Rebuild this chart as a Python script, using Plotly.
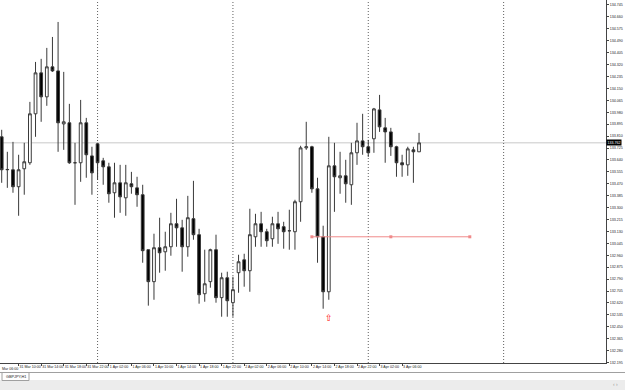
import plotly.graph_objects as go

# ---------------- data (GBPJPY, H1) ----------------
bar_index = list(range(75))
opens = [133.805, 133.570, 133.570, 133.449, 133.577, 133.620, 133.969, 134.261, 134.090, 134.304,
         134.275, 133.897, 133.905, 133.620, 133.620, 133.905, 133.669, 133.755, 133.634, 133.591,
         133.406, 133.477, 133.370, 133.470, 133.441, 133.392, 133.000, 132.772, 133.014, 132.985,
         133.021, 133.185, 133.156, 133.021, 133.221, 133.107, 132.686, 132.772, 133.000, 132.658,
         132.800, 132.622, 132.836, 132.928, 132.850, 133.092, 133.185, 133.128, 133.078, 133.185,
         133.164, 133.135, 133.128, 133.342, 133.726, 133.734, 133.434, 133.092, 132.700, 133.598,
         133.513, 133.527, 133.463, 133.691, 133.776, 133.734, 133.791, 133.997, 133.869, 133.840,
         133.734, 133.620, 133.605, 133.712, 133.698]
highs = [133.855, 133.698, 133.769, 133.677, 133.762, 134.054, 134.339, 134.361, 134.439, 134.517,
         134.624, 134.268, 134.040, 133.762, 134.068, 133.940, 133.734, 133.762, 133.655, 133.620,
         133.620, 133.605, 133.605, 133.555, 133.520, 133.463, 133.000, 133.114, 133.228, 133.128,
         133.263, 133.363, 133.213, 133.384, 133.491, 133.149, 133.000, 133.007, 133.107, 132.836,
         132.843, 132.807, 132.964, 132.971, 133.292, 133.256, 133.270, 133.149, 133.235, 133.270,
         133.199, 133.285, 133.356, 133.741, 133.912, 133.741, 133.513, 133.171, 133.805, 133.762,
         133.698, 133.641, 133.762, 133.905, 133.969, 133.783, 134.011, 134.104, 133.940, 133.869,
         133.741, 133.677, 133.734, 133.734, 133.833]
lows = [133.477, 133.441, 133.406, 133.242, 133.392, 133.605, 133.805, 133.912, 134.026, 134.268,
        133.698, 133.712, 133.612, 133.320, 133.484, 133.513, 133.392, 133.498, 133.463, 133.335,
        133.228, 133.263, 133.242, 133.399, 133.306, 132.907, 132.601, 132.643, 132.836, 132.850,
        132.957, 133.021, 132.843, 132.950, 133.071, 132.615, 132.629, 132.729, 132.622, 132.522,
        132.522, 132.522, 132.693, 132.736, 132.700, 133.021, 133.021, 133.021, 133.021, 133.042,
        133.007, 133.000, 133.000, 133.199, 133.712, 133.406, 132.907, 132.579, 132.643, 133.270,
        133.399, 133.335, 133.320, 133.605, 133.677, 133.662, 133.691, 133.840, 133.620, 133.669,
        133.520, 133.520, 133.527, 133.477, 133.698]
closes = [133.570, 133.572, 133.449, 133.570, 133.627, 133.969, 134.261, 134.090, 134.304, 134.275,
          133.905, 133.912, 133.620, 133.620, 133.905, 133.677, 133.548, 133.620, 133.591, 133.399,
          133.477, 133.377, 133.477, 133.449, 133.392, 132.993, 132.772, 133.014, 132.978, 133.021,
          133.185, 133.156, 133.021, 133.228, 133.107, 132.679, 132.757, 133.000, 132.658, 132.800,
          132.636, 132.715, 132.914, 132.850, 133.107, 133.185, 133.128, 133.064, 133.185, 133.149,
          133.128, 133.135, 133.342, 133.726, 133.734, 133.434, 133.092, 132.700, 133.598, 133.520,
          133.527, 133.470, 133.691, 133.776, 133.734, 133.691, 134.004, 133.876, 133.840, 133.734,
          133.620, 133.605, 133.719, 133.698, 133.762]

x_tick_index = [3, 7, 11, 15, 19, 23, 27, 31, 35, 39, 43, 47, 51, 55, 59, 63, 67, 71]
x_tick_text = ["31 Mar 10:00", "31 Mar 14:00", "31 Mar 18:00", "31 Mar 22:00",
               "1 Apr 02:00", "1 Apr 06:00", "1 Apr 10:00", "1 Apr 14:00", "1 Apr 18:00", "1 Apr 22:00",
               "2 Apr 02:00", "2 Apr 06:00", "2 Apr 10:00", "2 Apr 14:00", "2 Apr 18:00", "2 Apr 22:00",
               "3 Apr 02:00", "3 Apr 06:00"]
first_label_text = "Mar 06:00"   # visible part of the label cut at the left edge

y_tick_text = ["134.745", "134.660", "134.575", "134.490", "134.405", "134.320", "134.235", "134.150",
               "134.065", "133.980", "133.895", "133.810", "133.725", "133.640", "133.555", "133.470",
               "133.385", "133.300", "133.215", "133.130", "133.045", "132.960", "132.875", "132.790",
               "132.705", "132.620", "132.535", "132.450", "132.365", "132.280", "132.195"]

day_separators = [17, 41, 65, 89]
level_price = 133.092
level_points = [55, 69, 83]
arrow_index = 58
arrow_price = 132.508
symbol_label = "GBPJPY,H1"

# ---------------- layout constants ----------------
W, H = 625, 390
ML, MR, MT, MB = 0, 19, 0, 27
X_RANGE = [-0.30, 107.15]
Y_RANGE = [132.192, 134.7806]
FONT = "Liberation Sans"
PH = H - MT - MB


def py(p):
    return (H - MB - p) / PH


def pxx(p):
    return p / (W - ML - MR)


fig = go.Figure()

fig.add_trace(go.Candlestick(
    x=bar_index, open=opens, high=highs, low=lows, close=closes,
    increasing=dict(fillcolor="#ffffff", line=dict(color="#3a3a3a", width=1)),
    decreasing=dict(fillcolor="#000000", line=dict(color="#3a3a3a", width=1)),
    whiskerwidth=0, hoverinfo="skip", showlegend=False,
))

# horizontal level (red) with anchor points
fig.add_trace(go.Scatter(
    x=[level_points[0], level_points[-1]], y=[level_price, level_price], mode="lines",
    line=dict(color="#f08a8a", width=1), hoverinfo="skip", showlegend=False))
fig.add_trace(go.Scatter(
    x=level_points, y=[level_price] * len(level_points), mode="markers",
    marker=dict(symbol="square", size=3, color="#f08a8a"), hoverinfo="skip", showlegend=False))

# red up arrow
fig.add_trace(go.Scatter(
    x=[arrow_index], y=[arrow_price], mode="text", text=["⇧"],
    textfont=dict(family="DejaVu Sans", size=9, color="#ff0000"),
    textposition="middle center", hoverinfo="skip", showlegend=False))

shapes = []
# bid line
shapes.append(dict(type="line", xref="paper", yref="y", x0=0, x1=1, y0=closes[-1], y1=closes[-1],
                   line=dict(color="#c8c8c8", width=1), layer="below"))
# period separators
for d in day_separators:
    shapes.append(dict(type="line", xref="x", yref="paper", x0=d, x1=d, y0=0, y1=1,
                       line=dict(color="#606060", width=1, dash="1px,2px"), layer="below"))
# bottom status area
shapes.append(dict(type="rect", xref="paper", yref="paper", x0=-0.01, x1=pxx(W) + 0.01,
                   y0=py(380), y1=py(H + 2), fillcolor="#ececec", line=dict(width=0)))
shapes.append(dict(type="line", xref="paper", yref="paper", x0=0, x1=pxx(W),
                   y0=py(372.5), y1=py(372.5), line=dict(color="#a0a0a0", width=1)))
shapes.append(dict(type="rect", xref="paper", yref="paper", x0=pxx(2), x1=pxx(29),
                   y0=py(372.5), y1=py(380.5), fillcolor="#ffffff", line=dict(color="#a0a0a0", width=1)))

annotations = []
annotations.append(dict(xref="paper", yref="paper", x=pxx(15.5), y=py(376.5), text=symbol_label,
                        showarrow=False, font=dict(family=FONT, size=3.8, color="#222222"),
                        xanchor="center", yanchor="middle"))
annotations.append(dict(xref="paper", yref="paper", x=pxx(615), y=py(384), text="‹ ›",
                        showarrow=False, font=dict(family=FONT, size=5, color="#9a9a9a"),
                        xanchor="center", yanchor="middle"))
# current price tag
annotations.append(dict(xref="paper", yref="y", x=1.0, y=closes[-1], text=f"{closes[-1]:.3f}",
                        showarrow=False, xanchor="left", yanchor="middle", xshift=0,
                        bgcolor="#000000", borderpad=0.5,
                        font=dict(family=FONT, size=3.6, color="#ffffff")))
# partially visible first time label at the left edge
annotations.append(dict(xref="paper", yref="paper", x=0.0, y=py(364.5), text=first_label_text,
                        showarrow=False, xanchor="left", yanchor="top",
                        font=dict(family=FONT, size=3.6, color="#222222")))

fig.update_layout(
    width=W, height=H,
    margin=dict(l=ML, r=MR, t=MT, b=MB, pad=0),
    paper_bgcolor="#ffffff", plot_bgcolor="#ffffff",
    showlegend=False, shapes=shapes, annotations=annotations,
    font=dict(family=FONT, size=3.6, color="#222222"),
    xaxis=dict(range=X_RANGE, rangeslider=dict(visible=False), showgrid=False, zeroline=False,
               showline=True, linecolor="#444444", linewidth=1,
               tickmode="array", tickvals=x_tick_index, ticktext=x_tick_text,
               ticks="outside", ticklen=2, tickcolor="#444444", tickwidth=1,
               tickangle=0, ticklabelposition="outside right",
               tickfont=dict(family=FONT, size=3.6, color="#222222")),
    yaxis=dict(range=Y_RANGE, side="right", showgrid=False, zeroline=False,
               showline=True, linecolor="#444444", linewidth=1,
               tickmode="array", tickvals=[float(t) for t in y_tick_text], ticktext=y_tick_text,
               ticks="outside", ticklen=2, tickcolor="#444444", tickwidth=1,
               tickfont=dict(family=FONT, size=3.6, color="#222222")),
    boxgap=0.3,
)

fig.write_html("out.html")
